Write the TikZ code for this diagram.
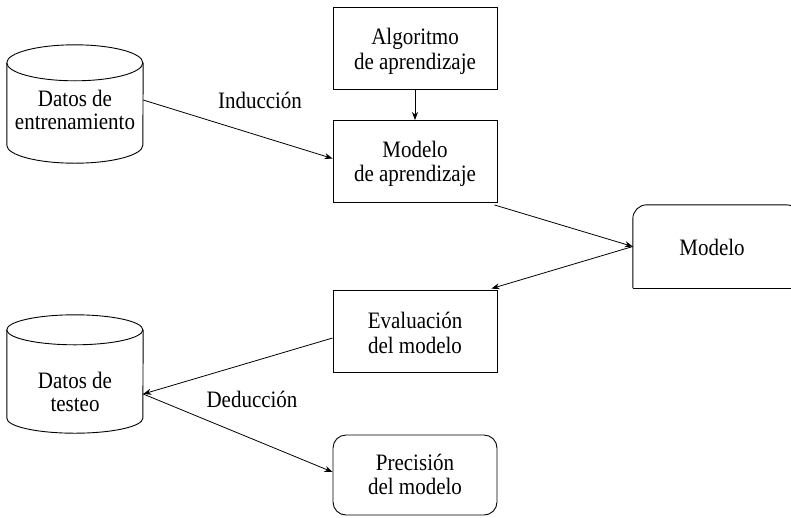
\documentclass[tikz,border=0pt]{standalone}
\usepackage{fontspec}
\setmainfont{Liberation Serif}
\usepackage{graphicx}
\usetikzlibrary{arrows.meta,calc}
\newcommand{\stx}[3][0pt]{\raisebox{#1}[\height][\depth]{\scalebox{1}[1.12]{\fontsize{21}{#2}\selectfont\begin{tabular}{@{}c@{}}#3\end{tabular}}}}
\tikzset{
  boxnode/.style={draw, line width=0.9pt, rectangle, minimum width=164pt, minimum height=82pt, inner sep=0pt},
  roundbox/.style={boxnode, rounded corners=13pt},
  cylnode/.style={rectangle, minimum width=136pt, minimum height=118pt, inner sep=0pt},
  cylline/.style={line width=0.9pt},
  lbl/.style={inner sep=0pt},
  arr/.style={line width=0.8pt, -{Stealth[length=8pt,width=6pt,inset=2.5pt]}},
}
\begin{document}
\begin{tikzpicture}[x=1pt,y=1pt]
\useasboundingbox (0,0) rectangle (791,-517);
\clip (0,0) rectangle (791,-517);

% boxes
\node[boxnode] (alg) at (415,-48) {\stx[-4pt]{22}{Algoritmo\\de aprendizaje}};
\node[boxnode] (map) at (415,-161.5) {\stx[-3pt]{22}{Modelo\\de aprendizaje}};
\node[boxnode] (eva) at (415,-331) {\stx[-5pt]{22}{Evaluación\\del modelo}};
\node[roundbox, minimum height=80pt] (pre) at (415,-475) {\stx[-3pt]{21}{Precisión\\del modelo}};

% Modelo shape (right part cut off)
\node[lbl, minimum width=158pt, minimum height=83pt] (mod) at (712,-246.5) {\stx[-4pt]{22}{Modelo}};
\draw[line width=0.9pt, rounded corners=14pt]
  (mod.south west) -- (mod.north west) -- ([xshift=9pt]mod.north east) -- ([xshift=9pt]mod.south east);
\draw[line width=0.9pt] (mod.south west) -- ([xshift=9pt]mod.south east);

% cylinders
\node[cylnode] (ent) at (75,-104) {\stx[-9pt]{20}{Datos de\\entrenamiento}};
\draw[cylline] ([yshift=-18pt]ent.north west) arc[start angle=180, end angle=-180, x radius=68pt, y radius=18pt];
\draw[cylline] ([yshift=-18pt]ent.north west) -- ([yshift=18pt]ent.south west)
  arc[start angle=180, end angle=360, x radius=68pt, y radius=18pt] -- ([yshift=-18pt]ent.north east);

\node[cylnode] (tst) at (75,-374) {\stx[-21pt]{20}{Datos de\\testeo}};
\draw[cylline] ([yshift=-15pt]tst.north west) arc[start angle=180, end angle=-180, x radius=68pt, y radius=15pt];
\draw[cylline] ([yshift=-15pt]tst.north west) -- ([yshift=15pt]tst.south west)
  arc[start angle=180, end angle=360, x radius=68pt, y radius=15pt] -- ([yshift=-15pt]tst.north east);

% labels
\node[lbl] (ind) at (260,-104) {\stx{19}{Inducción}};
\node[lbl] (ded) at (252,-403) {\stx{19}{Deducción}};

% connectors
\draw[arr] (alg.south) -- (map.north);
\draw[arr] ([yshift=4pt]ent.east) -- ([yshift=3pt]map.west);
\draw[arr] ([xshift=-3pt,yshift=-2pt]map.south east) -- (mod.west);
\draw[arr] (mod.west) -- ([xshift=-6pt,yshift=1pt]eva.north east);
\draw[arr] ([yshift=-7pt]eva.west) -- ([yshift=-20pt]tst.east);
\draw[arr] ([yshift=-20pt]tst.east) -- ([yshift=3pt]pre.west);
\end{tikzpicture}
\end{document}
